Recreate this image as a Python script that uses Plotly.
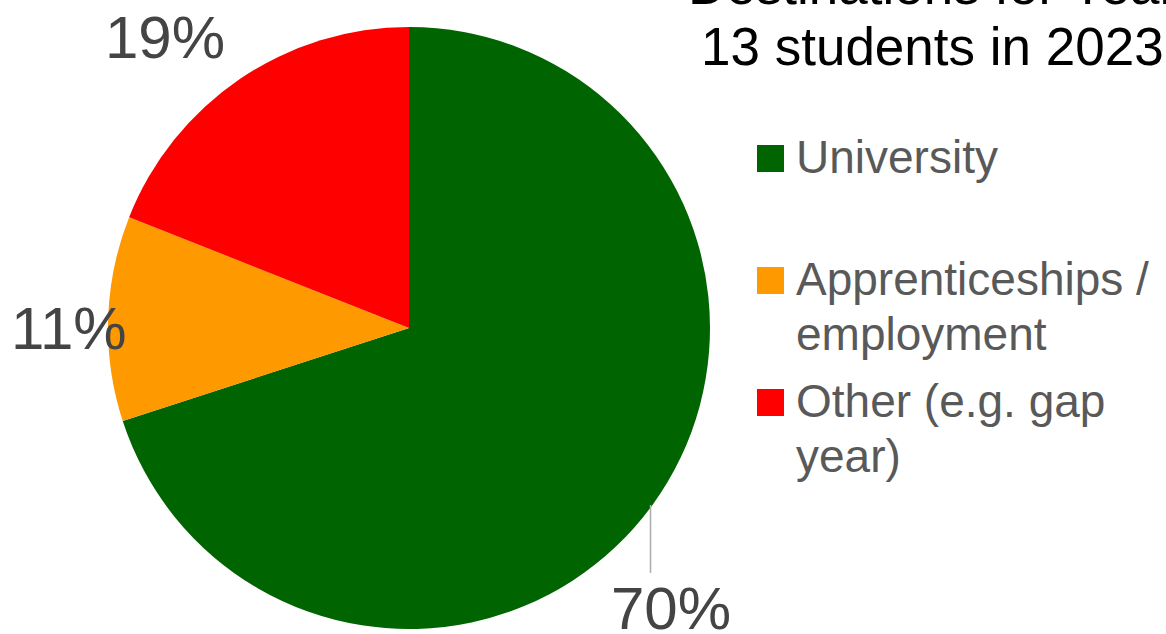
import math
import plotly.graph_objects as go

# ---- data ----
categories = ["University", "Apprenticeships / employment", "Other (e.g. gap year)"]
legend_lines = [["University"], ["Apprenticeships /", "employment"], ["Other (e.g. gap", "year)"]]
values = [70, 11, 19]
colors = ["#006400", "#FF9900", "#FF0000"]
title_lines = ["Destinations for Year", "13 students in 2023"]

W, H = 1166, 634
CX, CY, R = 409, 328, 301
FONT = "Liberation Sans, Arial, sans-serif"


def px(x):
    return x / W


def py(y):
    return 1 - y / H


fig = go.Figure(go.Pie(
    labels=categories,
    values=values,
    marker=dict(colors=colors, line=dict(width=0)),
    sort=False,
    direction="clockwise",
    rotation=0,
    textinfo="none",
    showlegend=False,
    domain=dict(x=[px(CX - R), px(CX + R)], y=[py(CY + R), py(CY - R)]),
))

annotations = []
shapes = []

# data labels, placed relative to each slice's outer mid-point
total = sum(values)
label_offsets = [(18, 104), (-39, 10), (-75, -42)]  # style: label offset from slice edge midpoint
cum = 0
for i, v in enumerate(values):
    mid = (cum + v / 2) / total * 2 * math.pi
    cum += v
    ax = CX + R * math.sin(mid)
    ay = CY - R * math.cos(mid)
    dx, dy = label_offsets[i]
    pct = f"{round(v / total * 100)}%"
    annotations.append(dict(
        x=px(ax + dx), y=py(ay + dy), xref="paper", yref="paper",
        text=pct, showarrow=False, xanchor="center", yanchor="middle",
        font=dict(family=FONT, size=60, color="#444444"),
    ))
    if i == 0:
        shapes.append(dict(type="line", xref="paper", yref="paper",
                           x0=px(ax - 2), x1=px(ax - 2), y0=py(ay), y1=py(ay + 68),
                           line=dict(color="#AAAAAA", width=1.5)))

# legend (manual, large square swatches)
legend_top = [145, 267, 389]
for i, lines in enumerate(legend_lines):
    top = legend_top[i]
    shapes.append(dict(type="rect", xref="paper", yref="paper",
                       x0=px(757), x1=px(784), y0=py(top + 27), y1=py(top),
                       fillcolor=colors[i], line=dict(width=0)))
    for j, t in enumerate(lines):
        base = top + 28 + j * 55
        annotations.append(dict(
            x=px(794), y=py(base - 16), xref="paper", yref="paper",
            text=t, showarrow=False, xanchor="left", yanchor="middle",
            font=dict(family=FONT, size=46, color="#595959"),
        ))

# title (clipped at top right as in the reference)
for j, t in enumerate(title_lines):
    base = 4 + j * 61
    annotations.append(dict(
        x=px(932), y=py(base - 18), xref="paper", yref="paper",
        text=t, showarrow=False, xanchor="center", yanchor="middle",
        font=dict(family=FONT, size=53, color="#000000"),
    ))

fig.update_layout(
    width=W, height=H,
    margin=dict(l=0, r=0, t=0, b=0),
    paper_bgcolor="white", plot_bgcolor="white",
    annotations=annotations, shapes=shapes,
)
fig.write_html(
    "out.html",
    config={"displayModeBar": False},
    post_script="document.body.style.margin='0';document.body.style.overflow='hidden';",
)
